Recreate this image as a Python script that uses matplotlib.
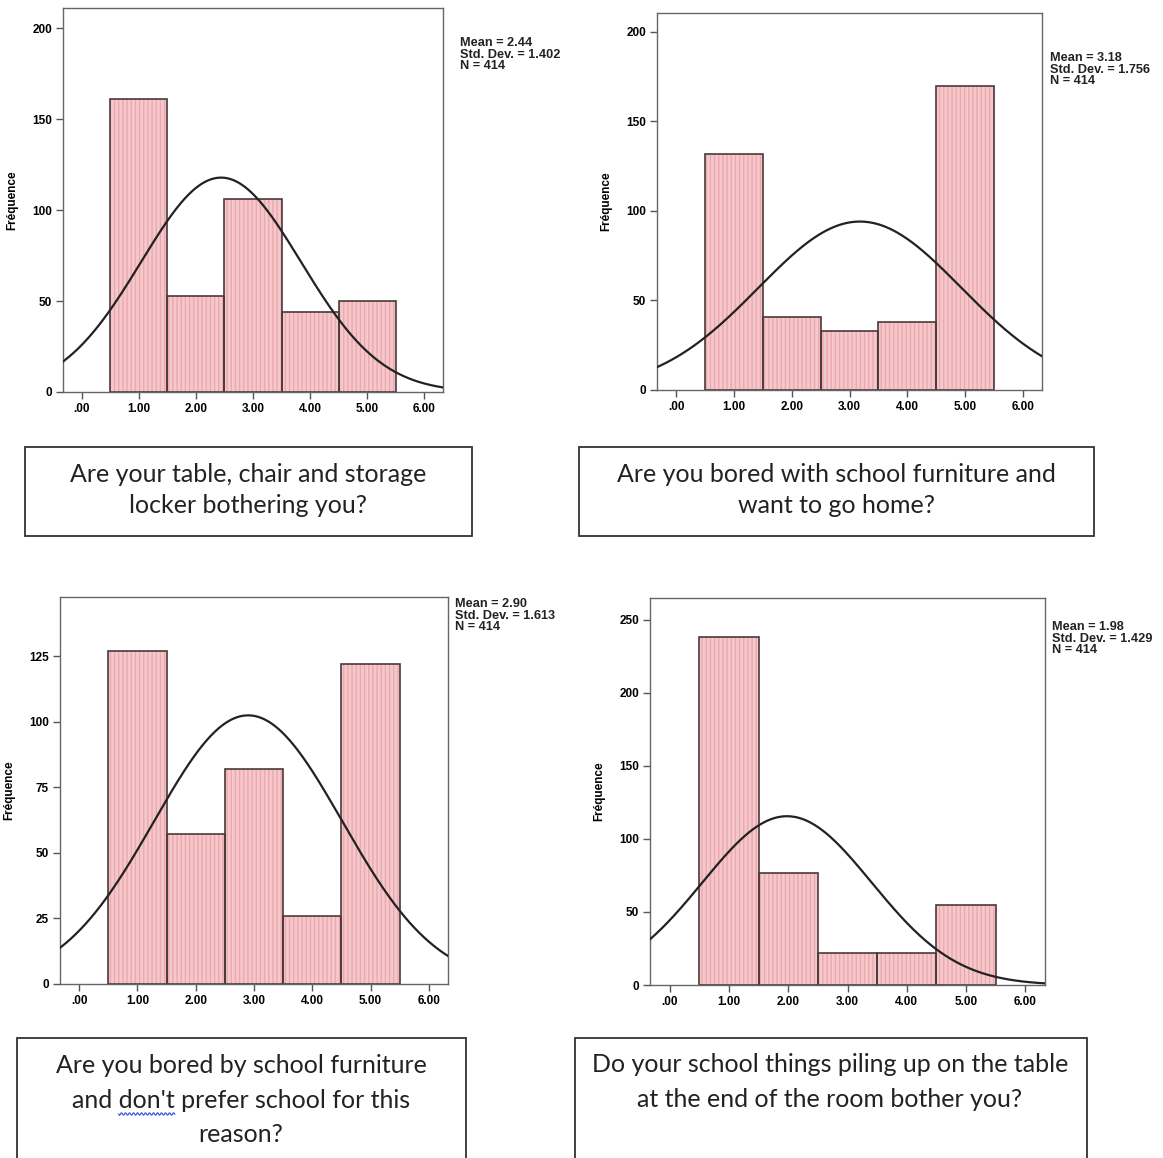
import numpy as np
import matplotlib.pyplot as plt
from matplotlib.patches import Rectangle

W, H = 1163, 1158
DPI = 100

# ── Data ─────────────────────────────────────────────────────────────────────
categories = [1, 2, 3, 4, 5]
counts = [
    [161, 53, 106, 44, 50],
    [132, 41, 33, 38, 170],
    [127, 57, 82, 26, 122],
    [238, 77, 22, 22, 55],
]
means = [2.44, 3.18, 2.90, 1.98]
sds = [1.402, 1.756, 1.613, 1.429]
n_obs = [414, 414, 414, 414]
yticks = [
    [0, 50, 100, 150, 200],
    [0, 50, 100, 150, 200],
    [0, 25, 50, 75, 100, 125],
    [0, 50, 100, 150, 200, 250],
]
ytops = [211, 210.5, 147.5, 265]
xticks = [0, 1, 2, 3, 4, 5, 6]
xticklabels = [".00", "1.00", "2.00", "3.00", "4.00", "5.00", "6.00"]
questions = [
    "Are your table, chair and storage\nlocker bothering you?",
    "Are you bored with school furniture and\nwant to go home?",
    "Are you bored by school furniture\nand don't prefer school for this\nreason?",
    "Do your school things piling up on the table\nat the end of the room bother you?",
]

# ── Layout (pixels: left, top, right, bottom) ────────────────────────────────
axes_px = [(63, 8, 443, 392), (657, 13, 1042, 390),
           (60, 597, 448, 984), (650, 598, 1045, 985)]
stats_px = [(460, 37), (1050, 52), (455, 598), (1052, 621)]
boxes_px = [(25, 447, 472, 536), (579, 447, 1094, 536),
            (17, 1038, 466, 1175), (575, 1038, 1087, 1175)]
text_center_px = [(248, 490), (836, 490), (241, 1100), (830, 1082)]
text_spacing = [1.45, 1.45, 1.63, 1.63]
CAPTION_FONT = dict(family="Lato", fontsize=18)

BAR_FACE = "#f6c8cb"
HATCH_COL = "#eaa9ae"
EDGE = "#4a3a3a"
BOLD = {"family": "Liberation Sans", "weight": "bold"}

fig = plt.figure(figsize=(W / DPI, H / DPI), dpi=DPI)


def fx(x):
    return x / W


def fy(y):
    return 1 - y / H


for i in range(4):
    l, t, r, b = axes_px[i]
    ax = fig.add_axes([fx(l), fy(b), fx(r) - fx(l), fy(t) - fy(b)])

    # bars: hatched fill, then outlines on top
    ax.bar(categories, counts[i], width=1.0, color=BAR_FACE, edgecolor=HATCH_COL,
           hatch="||||", linewidth=0, zorder=1)
    ax.bar(categories, counts[i], width=1.0, color="none", edgecolor=EDGE,
           linewidth=1.2, zorder=2)

    # normal curve from the reported mean / sd / N
    xs = np.linspace(-0.4, 6.4, 400)
    ys = n_obs[i] * np.exp(-0.5 * ((xs - means[i]) / sds[i]) ** 2) / (sds[i] * np.sqrt(2 * np.pi))
    ax.plot(xs, ys, color="#222222", linewidth=1.6, zorder=3)

    ax.set_xlim(-0.33, 6.33)
    ax.set_ylim(0, ytops[i])
    ax.set_xticks(xticks)
    ax.set_xticklabels(xticklabels, fontdict=BOLD, fontsize=8.5)
    ax.set_yticks(yticks[i])
    ax.set_yticklabels([str(v) for v in yticks[i]], fontdict=BOLD, fontsize=8.5)
    ax.tick_params(direction="out", length=5, width=1, color="#555555", pad=3)
    for s in ax.spines.values():
        s.set_color("#666666")
        s.set_linewidth(1.0)
    ax.set_ylabel("Fréquence", fontdict=BOLD, fontsize=8.5, labelpad=10)

    sx, sy = stats_px[i]
    stats = f"Mean = {means[i]:.2f}\nStd. Dev. = {sds[i]:.3f}\nN = {n_obs[i]}"
    fig.text(fx(sx), fy(sy), stats, ha="left", va="top",
             fontdict=BOLD, fontsize=9.2, linespacing=0.95, color="#222222")

# ── Question boxes ───────────────────────────────────────────────────────────
for i in range(4):
    l, t, r, b = boxes_px[i]
    fig.patches.append(Rectangle((fx(l), fy(b)), fx(r) - fx(l), fy(t) - fy(b),
                                 transform=fig.transFigure, fill=False,
                                 edgecolor="#333333", linewidth=1.3))
    cx, cy = text_center_px[i]
    fig.text(fx(cx), fy(cy), questions[i], ha="center", va="center",
             linespacing=text_spacing[i], color="#222222", **CAPTION_FONT)

# spell-check squiggle under "don't" (middle line of the third caption)
renderer = fig.canvas.get_renderer()


def text_width(s):
    t = fig.text(0, 0, s, **CAPTION_FONT)
    w = t.get_window_extent(renderer).width
    t.remove()
    return w


line2 = questions[2].split("\n")[1]
cx, cy = text_center_px[2]
x0 = cx - text_width(line2) / 2 + text_width("and ")
x1 = x0 + text_width("don't")
wx = np.linspace(x0, x1, 60)
wy = cy + 14 + 1.3 * np.sin((wx - x0) / 4.0 * 2 * np.pi)
fig.add_artist(plt.Line2D(fx(wx), fy(wy), color="#3d5bd9", linewidth=0.9,
                          transform=fig.transFigure))

fig.savefig("out.png", dpi=DPI)
